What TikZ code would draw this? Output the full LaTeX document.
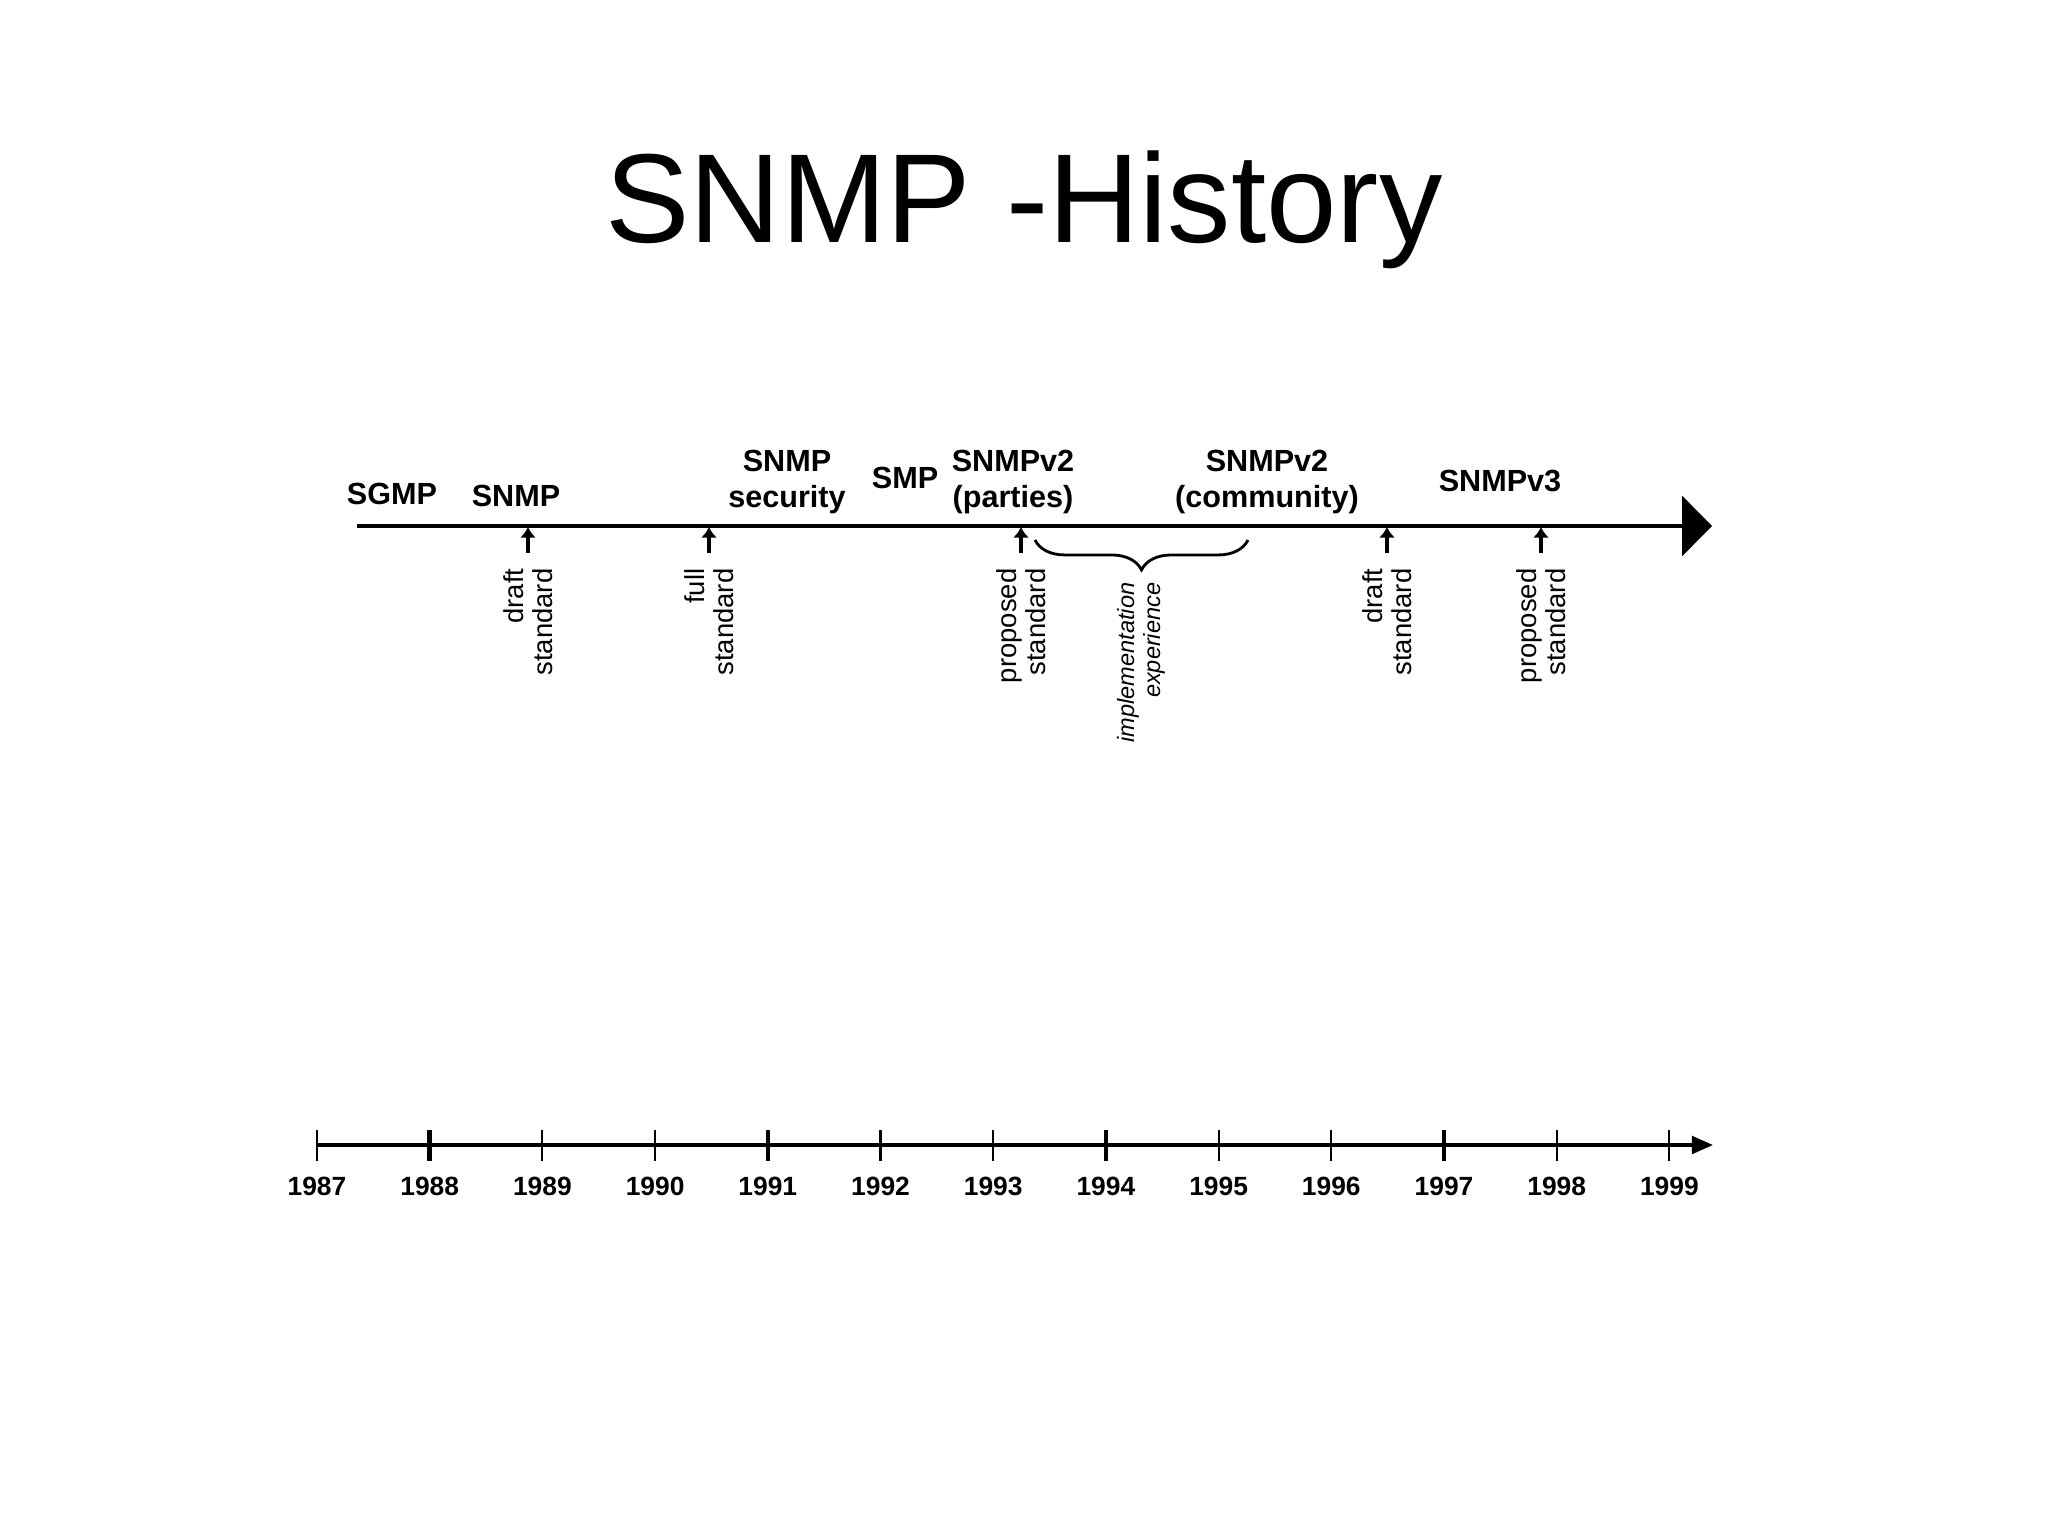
\documentclass[tikz,border=0pt]{standalone}
\usepackage{fontspec}
\setmainfont{Liberation Sans}
\usetikzlibrary{arrows.meta,decorations.pathreplacing}
\begin{document}
\begin{tikzpicture}[x=0.01cm,y=0.01cm,
  evname/.style={font=\bfseries\fontsize{8.7}{10.4}\selectfont,align=center,inner sep=0pt},
  evstage/.style={font=\fontsize{7.8}{8.2}\selectfont,align=right,rotate=90,anchor=east,inner sep=0pt},
  yearlbl/.style={font=\bfseries\fontsize{7.5}{9}\selectfont,inner sep=0pt},
  uparrow/.style={-{Latex[length=3pt,width=4.5pt]},line width=1pt}]
\useasboundingbox (0,0) rectangle (2048,-1536);
% the title
\node[anchor=base,font=\fontsize{36}{40}\selectfont] (title) at (1024,-242) {SNMP -History};
% the upper line with its big arrow
\coordinate (tstart) at (357,-526);
\coordinate (tend) at (1712,-526);
\draw[-{Triangle[length=8.5pt,width=17pt]},line width=1pt] (tstart) -- (tend);
% the small arrows up to the line
\foreach \x/\n in {528/a,709/b,1021/c,1387/d,1541/e} {
  \coordinate (ev\n) at (\x,-527);
  \coordinate (evb\n) at (\x,-553);
  \draw[uparrow] (evb\n) -- (ev\n);
}
% the names above the line
\node[evname] (sgmp) at (392,-494) {SGMP};
\node[evname] (snmp) at (516,-496) {SNMP};
\node[evname,anchor=north] (snmpsec) at (787,-449) {SNMP\\security};
\node[evname] (smp) at (905,-478) {SMP};
\node[evname,anchor=north] (snmpvp) at (1013,-449) {SNMPv2\\(parties)};
\node[evname,anchor=north] (snmpvc) at (1267,-449) {SNMPv2\\(community)};
\node[evname] (snmpvt) at (1500,-481) {SNMPv3};
% the stages below the arrows
\node[evstage] (stga) at (528,-568) {draft\\standard};
\node[evstage] (stgb) at (709,-568) {full\\standard};
\node[evstage] (stgc) at (1021,-568) {proposed\\standard};
\node[evstage] (stgd) at (1387,-568) {draft\\standard};
\node[evstage] (stge) at (1541,-568) {proposed\\standard};
% the brace and its label
\coordinate (brl) at (1035,-540);
\coordinate (brr) at (1248,-540);
\draw[decorate,decoration={brace,mirror,amplitude=8.5pt},line width=0.8pt] (brl) -- (brr);
\node[evstage,font=\itshape\fontsize{6.7}{7.4}\selectfont] (impl) at (1141,-582) {implementation\\experience};
% the lower line with the years
\coordinate (bstart) at (317,-1145);
\coordinate (bend) at (1713,-1145);
\draw[-{Triangle[length=6pt,width=5pt]},line width=1pt] (bstart) -- (bend);
\foreach \yr [count=\i from 0] in {1987,...,1999} {
  \draw[line width=0.6pt] (317+\i*112.7,-1130) -- (317+\i*112.7,-1161);
  \node[yearlbl] (yr\yr) at (317+\i*112.7,-1186) {\yr};
}
\foreach \i in {1,4,7,10}
  \draw[line width=1.3pt] (317+\i*112.7,-1130) -- (317+\i*112.7,-1161);
\end{tikzpicture}
\end{document}
